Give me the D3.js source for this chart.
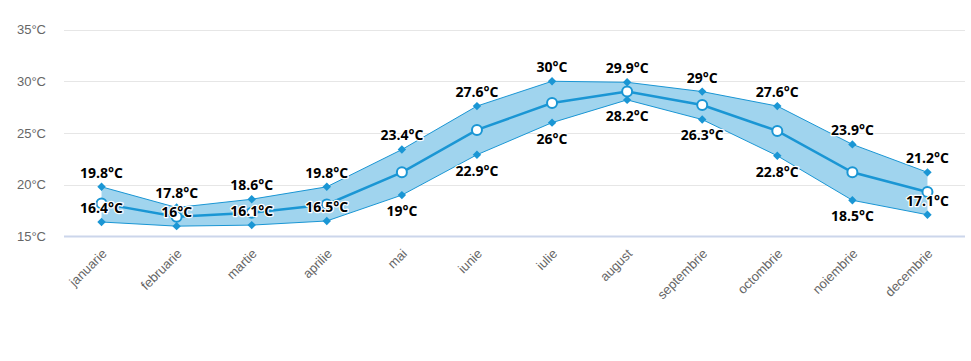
<!DOCTYPE html>
<html><head><meta charset="utf-8">
<script src="https://cdn.jsdelivr.net/npm/d3@7"></script>
<style>
body{margin:0;background:#fff;}
svg{display:block;font-family:"Open Sans","Noto Sans",sans-serif;}
</style></head><body>
<svg id="c" width="971" height="361"></svg>
<script>
const months = ["januarie","februarie","martie","aprilie","mai","iunie","iulie","august","septembrie","octombrie","noiembrie","decembrie"];
const lowTemps = [16.4,16,16.1,16.5,19,22.9,26,28.2,26.3,22.8,18.5,17.1];
const highTemps = [19.8,17.8,18.6,19.8,23.4,27.6,30,29.9,29,27.6,23.9,21.2];
const meanTemps = [18.2,16.9,17.3,18.1,21.2,25.3,27.9,29.0,27.7,25.2,21.2,19.3];
const yTicks = [15,20,25,30,35];

const svg = d3.select("#c");
const pLeft=64, pRight=965, pTop=29.5, pBottom=236.5;
const x = d3.scaleBand().domain(months).range([pLeft,pRight]);
const y = d3.scaleLinear().domain([15,35]).range([pBottom,pTop]);
const cx = m => x(m)+x.bandwidth()/2;
const data = months.map((m,i)=>({m,lo:lowTemps[i],hi:highTemps[i],mean:meanTemps[i]}));
const blue="#1a96d4";

// grid
svg.append("g").selectAll("line").data(yTicks.filter(t=>t!==15)).join("line")
  .attr("x1",pLeft).attr("x2",pRight).attr("y1",d=>Math.round(y(d))+0.5).attr("y2",d=>Math.round(y(d))+0.5)
  .attr("stroke","#e6e6e6").attr("stroke-width",1);
svg.append("line").attr("x1",pLeft).attr("x2",pRight).attr("y1",y(15)).attr("y2",y(15))
  .attr("stroke","#ccd6eb").attr("stroke-width",2);

// y labels
const yAxis = d3.axisLeft(y).tickValues(yTicks).tickFormat(d=>d+"°C").tickSize(0).tickPadding(0);
const ya = svg.append("g").attr("transform",`translate(${46},0)`).call(yAxis);
ya.select(".domain").remove();
ya.selectAll("text").attr("fill","#666").attr("font-size","13px").attr("dy","0.32em");

// x labels
const xAxis = d3.axisBottom(x).tickSize(0).tickPadding(0);
const xa = svg.append("g").attr("transform",`translate(0,${pBottom})`).call(xAxis);
xa.select(".domain").remove();
xa.selectAll("text").attr("fill","#666").attr("font-size","13px")
  .attr("text-anchor","end").attr("dy",0).attr("y",0)
  .attr("transform","translate(6,18) rotate(-45)");

// area
const area = d3.area().x(d=>cx(d.m)).y0(d=>y(d.lo)).y1(d=>y(d.hi));
svg.append("path").datum(data).attr("d",area).attr("fill","#a0d4ee");
const lineHi = d3.line().x(d=>cx(d.m)).y(d=>y(d.hi));
const lineLo = d3.line().x(d=>cx(d.m)).y(d=>y(d.lo));
svg.append("path").datum(data).attr("d",lineHi).attr("fill","none").attr("stroke",blue).attr("stroke-width",1);
svg.append("path").datum(data).attr("d",lineLo).attr("fill","none").attr("stroke",blue).attr("stroke-width",1);
const diamond = d3.symbol().type(d3.symbolDiamond2).size(45);
["hi","lo"].forEach(k=>{
  svg.append("g").selectAll("path").data(data).join("path")
    .attr("d",diamond).attr("transform",d=>`translate(${cx(d.m)},${y(d[k])})`).attr("fill",blue);
});
// mean
const lineMean = d3.line().x(d=>cx(d.m)).y(d=>y(d.mean));
svg.append("path").datum(data).attr("d",lineMean).attr("fill","none").attr("stroke",blue).attr("stroke-width",2.5);
svg.append("g").selectAll("circle").data(data).join("circle")
  .attr("cx",d=>cx(d.m)).attr("cy",d=>y(d.mean)).attr("r",5)
  .attr("fill","#fff").attr("stroke",blue).attr("stroke-width",2);

// labels
const lab = svg.append("g").attr("font-size","14px").attr("font-weight","bold").attr("text-anchor","middle")
  .attr("fill","#000").attr("stroke","#fff").attr("stroke-width",2.5).attr("stroke-linejoin","round")
  .style("paint-order","stroke");
lab.selectAll("text.hi").data(data).join("text").attr("class","hi")
  .attr("x",d=>cx(d.m)).attr("y",d=>y(d.hi)-14).attr("dy","0.35em").text(d=>d.hi+"°C");
lab.selectAll("text.lo").data(data).join("text").attr("class","lo")
  .attr("x",d=>cx(d.m)).attr("y",d=>{
    const py=y(d.lo);
    return (py+16+8 > pBottom) ? py-14 : py+16;
  }).attr("dy","0.35em").text(d=>d.lo+"°C");
</script></body></html>
